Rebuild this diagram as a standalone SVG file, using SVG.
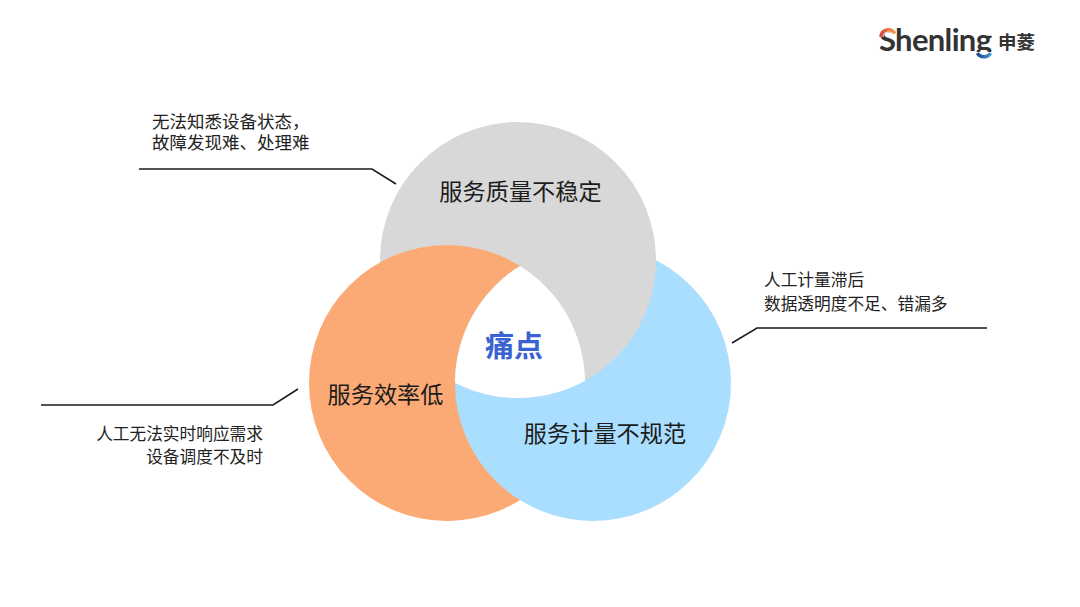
<svg xmlns="http://www.w3.org/2000/svg" width="1080" height="607" viewBox="0 0 1080 607">
<style>
text{font-family:"Noto Sans CJK SC","Noto Sans",sans-serif}
.big{font-size:23.2px;fill:#1c1c1c;text-anchor:middle}
.small{font-size:16.7px;fill:#222}
.top{font-size:17.5px}
.lead{fill:none;stroke:#1a1a1a;stroke-width:1.5}
.gray{fill:#d8d8d8}.orange{fill:#fbaa75}.blue{fill:#aadeff}
.latin{font-family:Lato,sans-serif}
</style>
<defs>
<linearGradient id="warm" x1="0" x2="1" y1="0" y2="0"><stop offset="0" stop-color="#d9483b"/><stop offset="1" stop-color="#f3a04a"/></linearGradient>
<linearGradient id="cool" x1="0" x2="1" y1="0" y2="0"><stop offset="0" stop-color="#24408e"/><stop offset="1" stop-color="#3f9ad6"/></linearGradient>
</defs>
<rect width="1080" height="607" fill="#fff"/>
<g id="node-quality"><circle class="gray" cx="518" cy="260" r="138"/></g>
<g id="node-efficiency"><circle class="orange" cx="447" cy="383" r="138"/></g>
<g id="node-metering"><circle class="blue" cx="593" cy="383" r="138"/>
<path class="gray" d="M656 260.2A138 138 0 0 1 455 382.8A138 138 0 0 1 656 260.2Z"/></g>
<g id="node-pain"><path fill="#fff" d="M520 265.900A138 138 0 0 1 585 380.700A138 138 0 0 1 455 382.800A138 138 0 0 1 520 265.900Z"/>
<text x="514" y="357" font-size="29" font-weight="700" fill="#3a62d0" text-anchor="middle">痛点</text></g>
<text class="big" x="520.500" y="200">服务质量不稳定</text>
<text class="big" x="385.500" y="403">服务效率低</text>
<text class="big" x="605" y="442">服务计量不规范</text>
<g id="connectors">
<polyline class="lead" points="139,169 372,169 396,184"/>
<polyline class="lead" points="987,328 757,328 732,343"/>
<polyline class="lead" points="41,405 273,405 298,389"/>
</g>
<g id="note-quality"><text class="small top" x="152" y="128">无法知悉设备状态，</text><text class="small top" x="152" y="149">故障发现难、处理难</text></g>
<g id="note-metering"><text class="small" x="764" y="286">人工计量滞后</text><text class="small" x="764" y="309.500">数据透明度不足、错漏多</text></g>
<g id="note-efficiency"><text class="small" x="263" y="439.500" text-anchor="end">人工无法实时响应需求</text><text class="small" x="263" y="462.500" text-anchor="end">设备调度不及时</text></g>
<g id="logo">
<text class="latin" x="879" y="51" font-size="31" font-weight="700" fill="#333" textLength="113">Shenling</text>
<rect x="974" y="52" width="20" height="10" fill="#fff"/>
<path d="M881 37A7.500 7.500 0 0 1 895 33.500" fill="none" stroke="#fff" stroke-width="5"/>
<path d="M881 37A7.500 7.500 0 0 1 895 33.500" fill="none" stroke="url(#warm)" stroke-width="3.500"/>
<path d="M977.500 53A7 6 0 0 0 990.500 53" fill="none" stroke="url(#cool)" stroke-width="3.500"/>
<text x="998" y="49" font-size="18.500" font-weight="700" fill="#333">申菱</text>
</g>
</svg>
